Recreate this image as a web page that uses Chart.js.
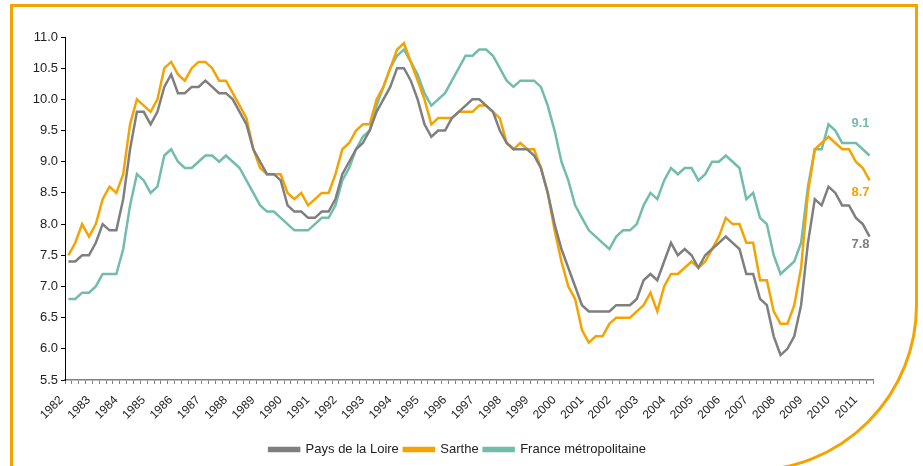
<!DOCTYPE html>
<html lang="fr">
<head>
    <meta charset="UTF-8">
    <title>Taux de chômage</title>
    <script src="https://cdn.jsdelivr.net/npm/chart.js"></script>
    <style>
        html, body {
            margin: 0;
            padding: 0;
            background: #fff;
        }
        .wrap {
            position: relative;
            width: 923px;
            height: 466px;
            overflow: hidden;
        }
        .frame {
            position: absolute;
            left: 10px;
            top: 4px;
            width: 902px;
            height: 462px;
            border: 3px solid #F5A300;
            border-bottom-right-radius: 167px;
            pointer-events: none;
        }
        canvas {
            position: absolute;
            left: 0;
            top: 0;
        }
    </style>
</head>
<body>
<div class="wrap">
    <canvas id="chart" width="923" height="466"></canvas>
    <div class="frame"></div>
</div>

<script>
    // années affichées sous l'axe (une étiquette tous les 4 trimestres)
    const years = ['1982','1983','1984','1985','1986','1987','1988','1989','1990','1991',
                   '1992','1993','1994','1995','1996','1997','1998','1999','2000','2001',
                   '2002','2003','2004','2005','2006','2007','2008','2009','2010','2011'];
    const lastQuarter = 2; // la série s'arrête au 2e trimestre 2011

    const yTicks = [5.5, 6.0, 6.5, 7.0, 7.5, 8.0, 8.5, 9.0, 9.5, 10.0, 10.5, 11.0];

    const paysDeLaLoire = [
        7.4,7.4,7.5,7.5,7.7,8.0,7.9,7.9,8.4,9.2,
        9.8,9.8,9.6,9.8,10.2,10.4,10.1,10.1,10.2,10.2,
        10.3,10.2,10.1,10.1,10.0,9.8,9.6,9.2,9.0,8.8,
        8.8,8.7,8.3,8.2,8.2,8.1,8.1,8.2,8.2,8.4,
        8.8,9.0,9.2,9.3,9.5,9.8,10.0,10.2,10.5,10.5,
        10.3,10.0,9.6,9.4,9.5,9.5,9.7,9.8,9.9,10.0,
        10.0,9.9,9.8,9.5,9.3,9.2,9.2,9.2,9.1,8.9,
        8.5,8.0,7.6,7.3,7.0,6.7,6.6,6.6,6.6,6.6,
        6.7,6.7,6.7,6.8,7.1,7.2,7.1,7.4,7.7,7.5,
        7.6,7.5,7.3,7.5,7.6,7.7,7.8,7.7,7.6,7.2,
        7.2,6.8,6.7,6.2,5.9,6.0,6.2,6.7,7.7,8.4,
        8.3,8.6,8.5,8.3,8.3,8.1,8.0,7.8
    ];
    const sarthe = [
        7.5,7.7,8.0,7.8,8.0,8.4,8.6,8.5,8.8,9.6,
        10.0,9.9,9.8,10.0,10.5,10.6,10.4,10.3,10.5,10.6,
        10.6,10.5,10.3,10.3,10.1,9.9,9.7,9.2,8.9,8.8,
        8.8,8.8,8.5,8.4,8.5,8.3,8.4,8.5,8.5,8.8,
        9.2,9.3,9.5,9.6,9.6,10.0,10.2,10.5,10.8,10.9,
        10.6,10.3,10.0,9.6,9.7,9.7,9.7,9.8,9.8,9.8,
        9.9,9.9,9.8,9.7,9.3,9.2,9.3,9.2,9.2,8.9,
        8.5,7.9,7.4,7.0,6.8,6.3,6.1,6.2,6.2,6.4,
        6.5,6.5,6.5,6.6,6.7,6.9,6.6,7.0,7.2,7.2,
        7.3,7.4,7.3,7.4,7.6,7.8,8.1,8.0,8.0,7.7,
        7.7,7.1,7.1,6.6,6.4,6.4,6.7,7.3,8.5,9.2,
        9.3,9.4,9.3,9.2,9.2,9.0,8.9,8.7
    ];
    const franceMetro = [
        6.8,6.8,6.9,6.9,7.0,7.2,7.2,7.2,7.6,8.3,
        8.8,8.7,8.5,8.6,9.1,9.2,9.0,8.9,8.9,9.0,
        9.1,9.1,9.0,9.1,9.0,8.9,8.7,8.5,8.3,8.2,
        8.2,8.1,8.0,7.9,7.9,7.9,8.0,8.1,8.1,8.3,
        8.7,8.9,9.2,9.4,9.5,9.9,10.2,10.5,10.7,10.8,
        10.6,10.4,10.1,9.9,10.0,10.1,10.3,10.5,10.7,10.7,
        10.8,10.8,10.7,10.5,10.3,10.2,10.3,10.3,10.3,10.2,
        9.9,9.5,9.0,8.7,8.3,8.1,7.9,7.8,7.7,7.6,
        7.8,7.9,7.9,8.0,8.3,8.5,8.4,8.7,8.9,8.8,
        8.9,8.9,8.7,8.8,9.0,9.0,9.1,9.0,8.9,8.4,
        8.5,8.1,8.0,7.5,7.2,7.3,7.4,7.7,8.6,9.2,
        9.2,9.6,9.5,9.3,9.3,9.3,9.2,9.1
    ];

    // catégories trimestrielles
    const quarters = [];
    years.forEach((y, i) => {
        const n = i === years.length - 1 ? lastQuarter : 4;
        for (let q = 1; q <= n; q++) quarters.push(y + ' T' + q);
    });

    const GREY = '#7F7F7F', ORANGE = '#F5A300', TEAL = '#72BCAD';
    const FONT = "'Liberation Sans', Arial, sans-serif";

    // valeur finale écrite au bout de chaque courbe
    const endLabels = {
        id: 'endLabels',
        afterDatasetsDraw(chart) {
            const ctx = chart.ctx;
            const offsets = [8, 12, -32];
            ctx.save();
            ctx.font = 'bold 13px ' + FONT;
            ctx.textAlign = 'right';
            ctx.textBaseline = 'middle';
            chart.data.datasets.forEach((ds, i) => {
                const meta = chart.getDatasetMeta(i);
                const pt = meta.data[meta.data.length - 1];
                const v = ds.data[ds.data.length - 1];
                ctx.fillStyle = ds.borderColor;
                ctx.fillText(v.toFixed(1), pt.x, pt.y + offsets[i]);
            });
            ctx.restore();
        }
    };

    // recentre la légende sous la zone de tracé plutôt que sous tout le canevas
    const legendUnderPlot = {
        id: 'legendUnderPlot',
        afterLayout(chart) {
            const lg = chart.legend;
            if (!lg) return;
            lg.left = 42;
            lg.right = chart.chartArea.right;
            lg.width = lg.right - lg.left;
        }
    };

    new Chart(document.getElementById('chart'), {
        type: 'line',
        data: {
            labels: quarters,
            datasets: [
                { label: 'Pays de la Loire', data: paysDeLaLoire, borderColor: GREY, backgroundColor: GREY },
                { label: 'Sarthe', data: sarthe, borderColor: ORANGE, backgroundColor: ORANGE },
                { label: 'France métropolitaine', data: franceMetro, borderColor: TEAL, backgroundColor: TEAL }
            ]
        },
        options: {
            responsive: false,
            animation: false,
            layout: { padding: { top: 37, right: 50, left: 0, bottom: 0 } },
            elements: {
                line: { borderWidth: 2.5, tension: 0, fill: false },
                point: { radius: 0 }
            },
            scales: {
                x: {
                    offset: true,
                    afterFit: s => { s.height = 58; },
                    grid: { offset: true, drawOnChartArea: false, tickLength: 4, color: '#808080', lineWidth: 1 },
                    border: { color: '#808080', width: 1.5 },
                    ticks: {
                        autoSkip: false,
                        minRotation: 45,
                        maxRotation: 45,
                        padding: 2,
                        color: '#222',
                        font: { family: FONT, size: 12 },
                        // espaces finales : décale l'étiquette vers le bas-gauche comme dans Excel
                        callback: (v, i) => i % 4 === 0 ? years[i / 4] + '   ' : ''
                    }
                },
                y: {
                    min: 5.5,
                    max: 11,
                    afterFit: s => { s.width = 65; },
                    afterBuildTicks: s => { s.ticks = yTicks.map(v => ({ value: v })); },
                    grid: { drawOnChartArea: false, tickLength: 4, color: '#000' },
                    border: { color: '#000', width: 1 },
                    ticks: {
                        padding: 3,
                        color: '#222',
                        font: { family: FONT, size: 13 },
                        callback: v => v.toFixed(1)
                    }
                }
            },
            plugins: {
                legend: {
                    position: 'bottom',
                    labels: {
                        boxWidth: 30,
                        boxHeight: 3,
                        padding: 5,
                        color: '#222',
                        font: { family: FONT, size: 13 }
                    }
                },
                tooltip: { enabled: false }
            }
        },
        plugins: [endLabels, legendUnderPlot]
    });
</script>
</body>
</html>
